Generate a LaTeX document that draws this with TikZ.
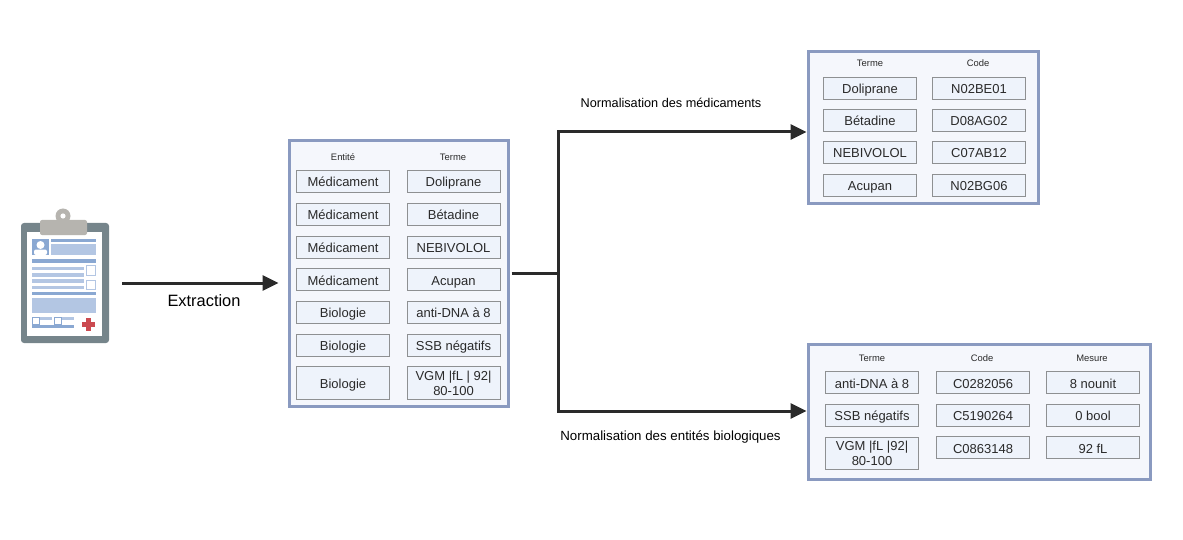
\documentclass[tikz,border=0pt]{standalone}
\usepackage{fontspec}
\setmainfont{Liberation Sans}
\usetikzlibrary{arrows.meta}
\definecolor{panelblue}{HTML}{8A9AC0}
\definecolor{panelfill}{HTML}{F5F7FC}
\definecolor{cellfill}{HTML}{EEF3FB}
\definecolor{cellline}{HTML}{8E9092}
\definecolor{inkdark}{HTML}{2A2A2A}
\definecolor{boardgrey}{HTML}{76858B}
\definecolor{clipgrey}{HTML}{B6B4AF}
\definecolor{bardark}{HTML}{8AA8D2}
\definecolor{barlight}{HTML}{B3C6E3}
\definecolor{crossred}{HTML}{CB4A50}
\tikzset{
  cellbase/.style={draw=cellline,fill=cellfill,line width=1pt,minimum width=93pt,minimum height=22pt,
    inner sep=0pt,text=inkdark,align=center,font=\fontsize{13}{15}\selectfont},
  panel/.style={draw=panelblue,fill=panelfill,line width=3pt,inner sep=0pt,outer sep=0pt},
  cellbox/.style={cellbase,execute at begin node={\rule{0pt}{14pt}},execute at end node={\rule[-3pt]{0pt}{3pt}}},
  head/.style={text=inkdark,inner sep=0pt,font=\fontsize{9.4}{10}\selectfont,text height=7pt,text depth=0pt},
  caption/.style={text=black,inner sep=0pt,font=\fontsize{12.7}{14}\selectfont,text height=9pt,text depth=0pt},
  flow/.style={draw=inkdark,line width=3pt},
  flowtip/.style={flow,-{Triangle[length=16pt,width=15pt]}},
}
\begin{document}
\begin{tikzpicture}[x=1pt,y=-1pt]
    \useasboundingbox (0,0) rectangle (1183,540);
    % Dossier patient
    \node[fill=boardgrey,rounded corners=3pt,minimum width=88pt,minimum height=120pt,inner sep=0pt] (board) at (65,283) {};
    \fill[white] (27,232) rectangle (102,336);
    \fill[clipgrey] (63,216) circle (7.5);
    \fill[white] (63,216) circle (2.6);
    \fill[clipgrey,rounded corners=2pt] (40,220) rectangle (87,235);
    \fill[bardark] (32,239) rectangle (49,255);
    \fill[white] (40.5,245) circle (4);
    \fill[white,rounded corners=2pt] (34,255) rectangle (47,249.5);
    \fill[bardark] (51,239) rectangle (96,242);
    \fill[barlight] (51,244) rectangle (96,255);
    \fill[bardark] (32,259) rectangle (96,263);
    \fill[barlight] (32,267) rectangle (84,270);
    \fill[barlight] (32,273) rectangle (84,277);
    \fill[barlight] (32,279) rectangle (84,283);
    \fill[barlight] (32,286) rectangle (84,289);
    \draw[barlight,line width=1pt] (86.5,265.5) rectangle (95.5,275);
    \draw[barlight,line width=1pt] (86.5,280.5) rectangle (95.5,289);
    \fill[bardark] (32,292) rectangle (96,295);
    \fill[barlight] (32,298) rectangle (96,313);
    \fill[barlight] (39,317) rectangle (52,320);
    \fill[barlight] (62,317) rectangle (74,320);
    \draw[bardark,line width=1pt] (32.5,317.5) rectangle (39,324);
    \draw[bardark,line width=1pt] (54.5,317.5) rectangle (61,324);
    \fill[bardark] (32,325) rectangle (74,328);
    \fill[crossred] (81.5,322) rectangle (94.5,327);
    \fill[crossred] (85.5,318) rectangle (90.5,331);
    % Entites extraites
    \node[panel,minimum width=219pt,minimum height=265pt] (entites) at (399,273.5) {};
    \node[head] (entitesA) at (343,157) {Entité};
    \node[head] (entitesB) at (453,157) {Terme};
    \node[cellbox] (medA) at (343,181.5) {Médicament};
    \node[cellbox] (medB) at (343,214.5) {Médicament};
    \node[cellbox] (medC) at (343,247) {Médicament};
    \node[cellbox] (medD) at (343,279.5) {Médicament};
    \node[cellbox] (bioA) at (343,312) {Biologie};
    \node[cellbox] (bioB) at (343,345) {Biologie};
    \node[cellbox,minimum height=33pt] (bioC) at (343,382.5) {Biologie};
    \node[cellbox] (termA) at (453.5,181.5) {Doliprane};
    \node[cellbox] (termB) at (453.5,214.5) {Bétadine};
    \node[cellbox] (termC) at (453.5,247) {NEBIVOLOL};
    \node[cellbox] (termD) at (453.5,279.5) {Acupan};
    \node[cellbox] (termE) at (453.5,312) {anti-DNA à 8};
    \node[cellbox] (termF) at (453.5,345) {SSB négatifs};
    \node[cellbase,minimum height=33pt] (termG) at (453.5,382.5) {\rule{0pt}{13pt}VGM |fL | 92|\\80-100\rule[-3pt]{0pt}{3pt}};
    % Medicaments
    \node[panel,minimum width=230pt,minimum height=152pt] (medicaments) at (923.5,127.5) {};
    \node[head] (medicamentsA) at (870,63.5) {Terme};
    \node[head] (medicamentsB) at (978,63.5) {Code};
    \node[cellbox] (drugA) at (870,88.5) {Doliprane};
    \node[cellbox] (drugB) at (870,120.5) {Bétadine};
    \node[cellbox] (drugC) at (870,152.5) {NEBIVOLOL};
    \node[cellbox] (drugD) at (870,185.5) {Acupan};
    \node[cellbox] (codeA) at (979,88.5) {N02BE01};
    \node[cellbox] (codeB) at (979,120.5) {D08AG02};
    \node[cellbox] (codeC) at (979,152.5) {C07AB12};
    \node[cellbox] (codeD) at (979,185.5) {N02BG06};
    % Entites biologiques
    \node[panel,minimum width=342pt,minimum height=135pt] (biologie) at (979.5,412) {};
    \node[head] (biologieA) at (872,358) {Terme};
    \node[head] (biologieB) at (982,358) {Code};
    \node[head] (biologieC) at (1092,358) {Mesure};
    \node[cellbox] (labA) at (872,382.5) {anti-DNA à 8};
    \node[cellbox] (labB) at (872,415) {SSB négatifs};
    \node[cellbase,minimum height=32pt] (labC) at (872,453) {\rule{0pt}{13pt}VGM |fL |92|\\80-100\rule[-3pt]{0pt}{3pt}};
    \node[cellbox] (cuiA) at (983,382.5) {C0282056};
    \node[cellbox] (cuiB) at (983,415) {C5190264};
    \node[cellbox] (cuiC) at (983,447.5) {C0863148};
    \node[cellbox] (mesA) at (1093,382.5) {8 nounit};
    \node[cellbox] (mesB) at (1093,415) {0 bool};
    \node[cellbox] (mesC) at (1093,447.5) {92 fL};
    % Fleches
    \coordinate (hub) at (558,273);
    \coordinate (medIn) at (medicaments.west |- 0,132);
    \coordinate (bioIn) at (biologie.west |- 0,411);
    \draw[flowtip,shorten <=13pt,shorten >=11pt] (board) -- (board -| entites.west);
    \draw[flow,shorten <=3pt] (entites.east |- hub) -- (hub);
    \draw[flowtip,shorten >=2pt] (hub) |- (medIn);
    \draw[flowtip,shorten >=2pt] (hub) |- (bioIn);
    % Legendes
    \node[text=black,inner sep=0pt,font=\fontsize{16.4}{18}\selectfont] (extraction) at (204,301) {Extraction};
    \node[caption] (normMed) at (671,103) {Normalisation des médicaments};
    \node[caption,font=\fontsize{13.3}{14}\selectfont] (normBio) at (670.5,436) {Normalisation des entités biologiques};
\end{tikzpicture}
\end{document}
